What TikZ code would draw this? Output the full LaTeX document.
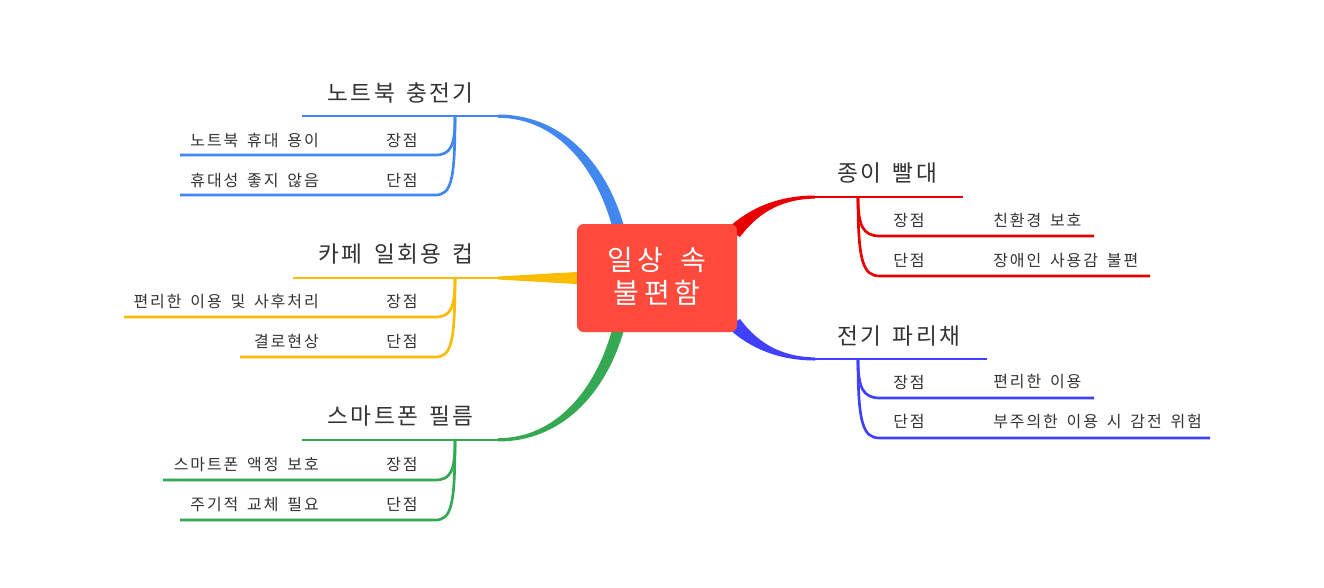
\documentclass[tikz,border=0pt]{standalone}
\usepackage{fontspec}
\setmainfont{Noto Sans CJK KR}
\newfontfamily\topicfont[LetterSpace=10,WordSpace=1.6]{Noto Sans CJK KR}
\newfontfamily\itemfont[LetterSpace=12,WordSpace=1.6]{Noto Sans CJK KR}
\newfontfamily\titlefont[LetterSpace=16,WordSpace=1.6]{Noto Sans CJK KR}
\usepackage{tikz}
\usetikzlibrary{positioning, calc}

\definecolor{cblue}{HTML}{4187EE}
\definecolor{cyellow}{HTML}{FBBC05}
\definecolor{cgreen}{HTML}{34A853}
\definecolor{cred}{HTML}{E80000}
\definecolor{cindigo}{HTML}{4040FF}
\definecolor{ccenter}{HTML}{FD4A3C}
\definecolor{ctext}{HTML}{333333}

\begin{document}
\begin{tikzpicture}[x=0.75pt, y=-0.75pt]
        \tikzstyle{topic}=[text=ctext, font=\topicfont\fontsize{17}{20}\selectfont, inner sep=0pt];
        \tikzstyle{item}=[text=ctext, font=\itemfont\fontsize{12}{14}\selectfont, inner sep=0pt];
        \tikzstyle{title}=[text=white, font=\titlefont\fontsize{21}{25}\selectfont, inner sep=0pt];
        \tikzstyle{mainline}=[line width=2.2pt, line cap=butt];
        \tikzstyle{subline}=[line width=2pt, line cap=butt];
        \useasboundingbox (0,0) rectangle (1324,587);

        % tapered connectors to the centre
        \fill[cblue] (498,114.5) .. controls (560,114.5) and (605,160) .. (624,226)
          -- (612,226) .. controls (595,165) and (555,117.8) .. (498,117.8) -- cycle;
        \fill[cgreen] (498,441.5) .. controls (560,441.5) and (605,396) .. (624,330)
          -- (612,330) .. controls (595,391) and (555,438.2) .. (498,438.2) -- cycle;
        \fill[cyellow] (498,276.5) -- (585,271.5) -- (585,284.5) -- (498,279.5) -- cycle;
        \fill[cred] (727,229) .. controls (750,207) and (780,195.5) .. (815,195.5)
          -- (815,198.6) .. controls (785,199) and (760,210) .. (740,237) -- cycle;
        \fill[cindigo] (727,327) .. controls (750,349) and (780,360.5) .. (815,360.5)
          -- (815,357.4) .. controls (785,357) and (760,346) .. (740,319) -- cycle;

        \node[fill=ccenter, rounded corners=5pt, minimum width=120pt, minimum height=81pt,
          inner sep=0pt] (center) at (657,278) {};
        \node[title] (center1) at (657,260) {일상 속};
        \node[title] (center2) at (657,293) {불편함};

        % laptop charger
        \coordinate (laptopL) at (302,116);
        \coordinate (laptopR) at (498,116);
        \coordinate (laptopT) at (455,116);
        \coordinate (laptopA) at (180,155);
        \coordinate (laptopB) at (180,195);
        \draw[mainline, cblue] (laptopL) -- (laptopR);
        \draw[subline, cblue] (laptopT) .. controls (455,146) and (451,155) .. (435,155) -- (laptopA);
        \draw[subline, cblue] (laptopT) .. controls (455,182) and (451,195) .. (435,195) -- (laptopB);
        \node[topic, anchor=east] (laptop) at (474,93) {노트북 충전기};
        \node[item, anchor=east] (laptop1) at (319,140) {노트북 휴대 용이};
        \node[item] (laptop1t) at (402,140) {장점};
        \node[item, anchor=east] (laptop2) at (319,180) {휴대성 좋지 않음};
        \node[item] (laptop2t) at (402,180) {단점};

        % cafe cup
        \coordinate (cupL) at (293,278);
        \coordinate (cupR) at (500,278);
        \coordinate (cupT) at (455,278);
        \coordinate (cupA) at (124,317);
        \coordinate (cupB) at (240,357);
        \draw[mainline, cyellow] (cupL) -- (cupR);
        \draw[subline, cyellow] (cupT) .. controls (455,308) and (451,317) .. (435,317) -- (cupA);
        \draw[subline, cyellow] (cupT) .. controls (455,344) and (451,357) .. (435,357) -- (cupB);
        \node[topic, anchor=east] (cup) at (474,254) {카페 일회용 컵};
        \node[item, anchor=east] (cup1) at (319,301) {편리한 이용 및 사후처리};
        \node[item] (cup1t) at (402,301) {장점};
        \node[item, anchor=east] (cup2) at (319,341) {결로현상};
        \node[item] (cup2t) at (402,341) {단점};

        % smartphone film
        \coordinate (filmL) at (302,440);
        \coordinate (filmR) at (498,440);
        \coordinate (filmT) at (455,440);
        \coordinate (filmA) at (163,480);
        \coordinate (filmB) at (180,520);
        \draw[mainline, cgreen] (filmL) -- (filmR);
        \draw[subline, cgreen] (filmT) .. controls (455,471) and (451,480) .. (435,480) -- (filmA);
        \draw[subline, cgreen] (filmT) .. controls (455,507) and (451,520) .. (435,520) -- (filmB);
        \node[topic, anchor=east] (film) at (474,416) {스마트폰 필름};
        \node[item, anchor=east] (film1) at (319,464) {스마트폰 액정 보호};
        \node[item] (film1t) at (402,464) {장점};
        \node[item, anchor=east] (film2) at (319,504) {주기적 교체 필요};
        \node[item] (film2t) at (402,504) {단점};

        % paper straw
        \coordinate (strawL) at (815,197);
        \coordinate (strawR) at (963,197);
        \coordinate (strawT) at (858,197);
        \coordinate (strawA) at (1094,236);
        \coordinate (strawB) at (1150,276);
        \draw[mainline, cred] (strawL) -- (strawR);
        \draw[subline, cred] (strawT) .. controls (858,226) and (863,236) .. (880,236) -- (strawA);
        \draw[subline, cred] (strawT) .. controls (858,262) and (863,276) .. (880,276) -- (strawB);
        \node[topic, anchor=west] (straw) at (837,173) {종이 빨대};
        \node[item] (straw1t) at (909,220) {장점};
        \node[item, anchor=west] (straw1) at (993,220) {친환경 보호};
        \node[item] (straw2t) at (909,260) {단점};
        \node[item, anchor=west] (straw2) at (993,260) {장애인 사용감 불편};

        % electric swatter
        \coordinate (swatL) at (815,359);
        \coordinate (swatR) at (987,359);
        \coordinate (swatT) at (858,359);
        \coordinate (swatA) at (1094,398);
        \coordinate (swatB) at (1210,438);
        \draw[mainline, cindigo] (swatL) -- (swatR);
        \draw[subline, cindigo] (swatT) .. controls (858,388) and (863,398) .. (880,398) -- (swatA);
        \draw[subline, cindigo] (swatT) .. controls (858,424) and (863,438) .. (880,438) -- (swatB);
        \node[topic, anchor=west] (swat) at (837,336) {전기 파리채};
        \node[item] (swat1t) at (909,382) {장점};
        \node[item, anchor=west] (swat1) at (993,382) {편리한 이용};
        \node[item] (swat2t) at (909,421) {단점};
        \node[item, anchor=west] (swat2) at (993,421) {부주의한 이용 시 감전 위험};
      \end{tikzpicture}
\end{document}
